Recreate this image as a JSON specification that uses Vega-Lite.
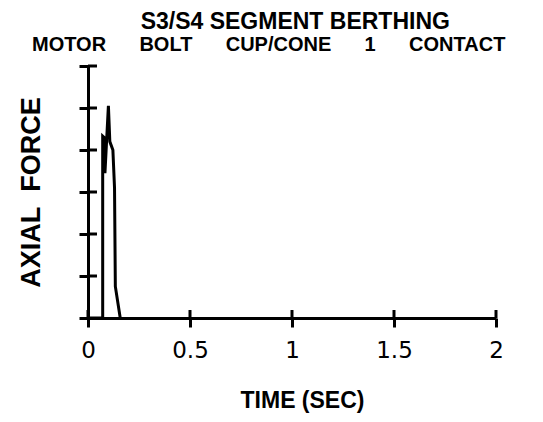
{
  "$schema": "https://vega.github.io/schema/vega-lite/v6.json",
  "autosize": "none",
  "width": 408,
  "height": 252,
  "padding": {"left": 88, "top": 66, "right": 47, "bottom": 104},
  "background": "white",
  "config": {"font": "Liberation Sans", "view": {"stroke": null}},
  "title": {
    "text": "\u200b\u00a0\u00a0\u00a0\u00a0\u00a0\u00a0\u00a0\u00a0\u00a0\u00a0\u00a0\u00a0\u00a0\u00a0\u00a0\u00a0\u00a0S3/S4 SEGMENT BERTHING",
    "subtitle": "MOTOR\u00a0\u00a0\u00a0\u00a0\u00a0\u00a0BOLT\u00a0\u00a0\u00a0\u00a0\u00a0\u00a0CUP/CONE\u00a0\u00a0\u00a0\u00a0\u00a0\u00a01\u00a0\u00a0\u00a0\u00a0\u00a0\u00a0CONTACT",
    "anchor": "start",
    "frame": "group",
    "dx": -56,
    "font": "Liberation Sans",
    "fontSize": 23,
    "fontWeight": "bold",
    "color": "black",
    "subtitleFont": "Liberation Sans",
    "subtitleFontSize": 20,
    "subtitleFontWeight": "bold",
    "subtitleColor": "black",
    "subtitlePadding": 1,
    "offset": 10
  },
  "datasets": {
    "curve": [
      {"i": 0, "time": 0.0, "force": 0},
      {"i": 1, "time": 0.072, "force": 0},
      {"i": 2, "time": 0.072, "force": 4.33},
      {"i": 3, "time": 0.079, "force": 4.3},
      {"i": 4, "time": 0.083, "force": 3.45},
      {"i": 5, "time": 0.100, "force": 5.05},
      {"i": 6, "time": 0.107, "force": 4.2},
      {"i": 7, "time": 0.122, "force": 4.0},
      {"i": 8, "time": 0.130, "force": 3.1},
      {"i": 9, "time": 0.134, "force": 0.75},
      {"i": 10, "time": 0.158, "force": 0}
    ],
    "xticks": [{"time": 0}, {"time": 0.5}, {"time": 1}, {"time": 1.5}, {"time": 2}],
    "yticks": [{"force": 1}, {"force": 2}, {"force": 3}, {"force": 4}, {"force": 5}, {"force": 6}]
  },
  "layer": [
    {
      "data": {"name": "curve"},
      "mark": {"type": "line", "color": "black", "strokeWidth": 3, "strokeJoin": "miter"},
      "encoding": {
        "x": {
          "field": "time", "type": "quantitative",
          "scale": {"domain": [0, 2], "nice": false},
          "axis": {
            "title": "TIME (SEC)", "values": [0, 0.5, 1, 1.5, 2], "format": "~g",
            "grid": false, "domainColor": "black", "domainWidth": 3,
            "tickColor": "black", "tickWidth": 3, "tickSize": 9,
            "labelFlush": false,
            "labelFontSize": 23, "labelColor": "black", "labelPadding": 12, "labelFont": "DejaVu Sans",
            "titleFontSize": 23, "titleFontWeight": "bold", "titleColor": "black", "titlePadding": 27, "titleFont": "Liberation Sans",
            "titleX": 214
          }
        },
        "y": {
          "field": "force", "type": "quantitative",
          "scale": {"domain": [0, 6], "nice": false},
          "axis": {
            "title": "AXIAL\u00a0\u00a0FORCE", "values": [0, 1, 2, 3, 4, 5, 6], "labels": false,
            "grid": false, "domainColor": "black", "domainWidth": 3,
            "tickColor": "black", "tickWidth": 3, "tickSize": 9,
            "titleFontSize": 27, "titleFontWeight": "bold", "titleColor": "black", "titlePadding": 32, "titleFont": "Liberation Sans"
          }
        },
        "order": {"field": "i", "type": "quantitative"}
      }
    },
    {
      "data": {"name": "xticks"},
      "mark": {"type": "rule", "color": "black", "strokeWidth": 3},
      "encoding": {
        "x": {"field": "time", "type": "quantitative"},
        "y": {"datum": 0},
        "y2": {"datum": 0.19}
      }
    },
    {
      "data": {"name": "yticks"},
      "mark": {"type": "rule", "color": "black", "strokeWidth": 3},
      "encoding": {
        "y": {"field": "force", "type": "quantitative"},
        "x": {"datum": 0},
        "x2": {"datum": 0.044}
      }
    }
  ]
}
